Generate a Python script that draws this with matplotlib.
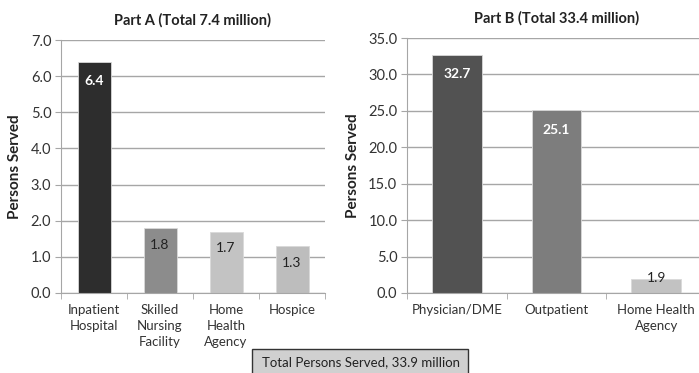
import matplotlib.pyplot as plt
from matplotlib.patches import Rectangle

plt.rcParams['font.family'] = ['Lato', 'DejaVu Sans']

# Part A data
a_labels = ['Inpatient\nHospital', 'Skilled\nNursing\nFacility', 'Home\nHealth\nAgency', 'Hospice']
a_values = [6.4, 1.8, 1.7, 1.3]
a_colors = ['#2d2d2d', '#8c8c8c', '#c3c3c3', '#bdbdbd']
a_text = ['white', '#222222', '#222222', '#222222']

# Part B data
b_labels = ['Physician/DME', 'Outpatient', 'Home Health\nAgency']
b_values = [32.7, 25.1, 1.9]
b_colors = ['#525252', '#7d7d7d', '#c2c2c2']
b_text = ['white', 'white', '#222222']

fig = plt.figure(figsize=(6.99, 3.73), dpi=100)
ax1 = fig.add_axes([61 / 699, 1 - 293 / 373, 264 / 699, 253 / 373])
ax2 = fig.add_axes([407 / 699, 1 - 293 / 373, 299 / 699, 255 / 373])


def draw(ax, labels, values, colors, text_colors, ymax, step, title, offsets):
    x = range(len(values))
    ax.set_axisbelow(True)
    ax.yaxis.grid(True, color='#a6a6a6', linewidth=1.0)
    ax.bar(x, values, width=0.5, color=colors, edgecolor='#d9d9d9', linewidth=0.6, zorder=2)
    for i, v in enumerate(values):
        bold = text_colors[i] == 'white'
        ax.annotate('%.1f' % v, (i, v), xytext=(0, offsets[i]), textcoords='offset points',
                    ha='center', va='center', fontsize=10, color=text_colors[i],
                    fontweight='bold' if bold else 'normal', zorder=3)
    ax.set_xlim(-0.5, len(values) - 0.5)
    ax.set_ylim(0, ymax)
    yt = [i * step for i in range(int(round(ymax / step)) + 1)]
    ax.set_yticks(yt)
    ax.set_yticklabels(['%.1f' % t for t in yt], fontsize=10.5, color='#333333')
    ax.set_xticks(list(x))
    ax.set_xticklabels(labels, fontsize=9.5, color='#333333', va='top', linespacing=1.4)
    ax.set_xticks([i - 0.5 for i in range(len(values) + 1)], minor=True)
    ax.tick_params(axis='x', which='major', length=0, pad=8)
    ax.tick_params(axis='x', which='minor', length=4, color='#a6a6a6', direction='out')
    ax.tick_params(axis='y', length=4, color='#a6a6a6', pad=3)
    for s in ['top', 'right']:
        ax.spines[s].set_visible(False)
    for s in ['left', 'bottom']:
        ax.spines[s].set_color('#a6a6a6')
    ax.set_ylabel('Persons Served', fontsize=11, fontweight='bold', color='#222222', labelpad=6)
    ax.set_title(title, fontsize=10.5, fontweight='bold', color='#222222', pad=11)


draw(ax1, a_labels, a_values, a_colors, a_text, 7.0, 1.0, 'Part A (Total 7.4 million)',
     [-14, -12, -12, -12])
draw(ax2, b_labels, b_values, b_colors, b_text, 35.0, 5.0, 'Part B (Total 33.4 million)',
     [-14, -14, 1])

box = Rectangle((252 / 699, -0.02), 216 / 699, 1 - 349 / 373 + 0.02, transform=fig.transFigure,
                facecolor='#d0d0d0', edgecolor='#333333', linewidth=1.0)
fig.patches.append(box)
fig.text(262 / 699, 1 - 362 / 373, 'Total Persons Served, 33.9 million', fontsize=9.5,
         color='#222222', va='center', ha='left')

fig.savefig('out.png', dpi=100)
